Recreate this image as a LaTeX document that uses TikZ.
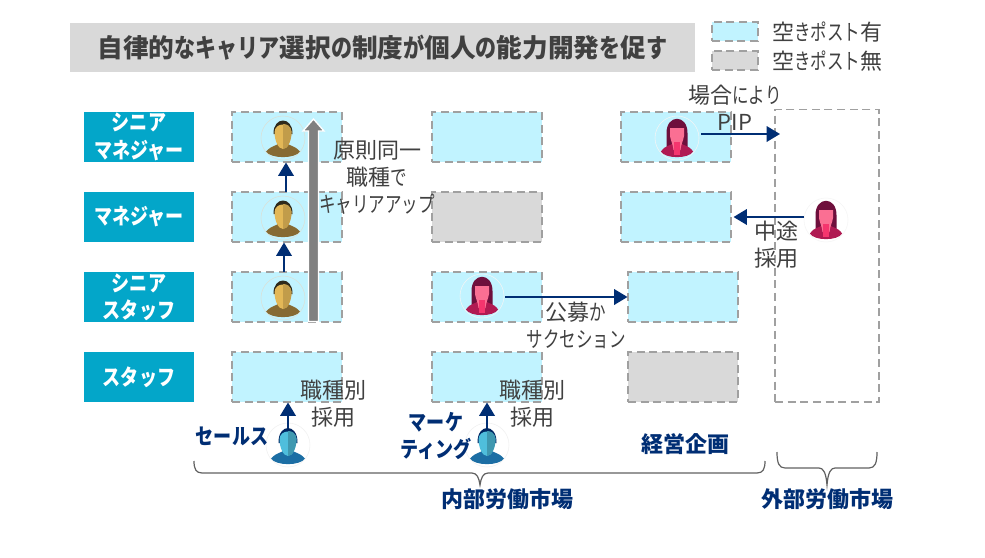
\documentclass[tikz,border=0pt]{standalone}
\usepackage{fontspec}
\setmainfont{Noto Sans CJK JP}
\newfontfamily\knfam[FakeStretch=0.75]{Noto Sans CJK JP}
\newfontfamily\kbfam[FakeStretch=0.82]{Noto Sans CJK JP}
\newcommand\kn[1]{{\knfam #1}}
\newcommand\kb[1]{{\kbfam #1}}
\usetikzlibrary{arrows.meta}
\definecolor{cyanfill}{HTML}{C1F3FF}
\definecolor{grayfill}{HTML}{D9D9D9}
\definecolor{dashc}{HTML}{A0A0A0}
\definecolor{ranktxt}{HTML}{03A6C9}
\definecolor{navy}{HTML}{002E74}
\definecolor{txt}{HTML}{404040}
\tikzset{
  x=0.75pt,y=-0.75pt,
  slot/.style={draw=dashc,line width=1.4pt,dash pattern=on 6pt off 3.5pt,minimum width=82.5pt,minimum height=37.5pt,inner sep=0pt,outer sep=0pt,anchor=north west},
  free/.style={slot,fill=cyanfill},
  full/.style={slot,fill=grayfill},
  rank/.style={fill=ranktxt,text=white,font=\fontsize{16.5pt}{20.5pt}\selectfont\bfseries,minimum width=82.5pt,minimum height=37.5pt,inner sep=0pt,outer sep=0pt,align=center,anchor=north west},
  note/.style={text=txt,font=\fontsize{16.5pt}{20.25pt}\selectfont,align=center,inner sep=0pt},
  navyb/.style={text=navy,font=\fontsize{16.5pt}{20.25pt}\selectfont\bfseries,align=center,inner sep=0pt},
  conn/.style={draw=navy,line width=1.8pt,-{Triangle[length=10pt,width=11.5pt]}},
  man/.pic={
    \draw[draw=yellow!30!green!20!gray!30,line width=.4pt] (0,-20) circle (22);
    \fill[manshoulder] (-17,-6.5) .. controls (-11,-13) and (-6,-12) .. (-4,-15) -- (4,-15) .. controls (6,-12) and (11,-13) .. (17,-6.5) .. controls (12,1) and (-12,1) .. (-17,-6.5) -- cycle;
    \fill[manhair] (-9.5,-24) .. controls (-10,-42) and (10,-42) .. (9.5,-24) -- (7,-24) -- (-7,-24) -- cycle;
    \fill[manface] (-8.5,-26) .. controls (-8,-36) and (8,-36) .. (8.5,-26) .. controls (8.5,-18) and (5,-9) .. (0,-9) .. controls (-5,-9) and (-8.5,-18) .. (-8.5,-26) -- cycle;
    \fill[manface!85!black] (0,-34) .. controls (4,-34) and (8,-32) .. (8.5,-26) .. controls (8.5,-18) and (5,-9) .. (0,-9) -- cycle;
  },
  sales/.pic={
    \draw[draw=black!6,line width=.4pt] (0,-20) circle (22);
    \fill[salesshoulder] (-17,-6.5) .. controls (-11,-13) and (-6,-12) .. (-4,-15) -- (4,-15) .. controls (6,-12) and (11,-13) .. (17,-6.5) .. controls (12,1) and (-12,1) .. (-17,-6.5) -- cycle;
    \fill[navy!85!black] (-9.5,-22) .. controls (-10,-42) and (10,-42) .. (9.5,-22) -- (7,-22) -- (-7,-22) -- cycle;
    \fill[salesface] (-8.5,-26) .. controls (-8,-36) and (8,-36) .. (8.5,-26) .. controls (8.5,-18) and (5,-9) .. (0,-9) .. controls (-5,-9) and (-8.5,-18) .. (-8.5,-26) -- cycle;
    \fill[salesface!80!black] (0,-34) .. controls (4,-34) and (8,-32) .. (8.5,-26) .. controls (8.5,-18) and (5,-9) .. (0,-9) -- cycle;
  },
  woman/.pic={
    \draw[draw=black!4,line width=.4pt] (0,-20) circle (22);
    \fill[womanhair] (-10.5,-25) .. controls (-10.5,-44) and (10.5,-44) .. (10.5,-25) -- (10.5,-10) -- (-10.5,-10) -- cycle;
    \fill[womanshoulder] (-16,-6.5) .. controls (-12,-13) and (-6,-12) .. (-4,-15) -- (4,-15) .. controls (6,-12) and (12,-13) .. (16,-6.5) .. controls (12,1) and (-12,1) .. (-16,-6.5) -- cycle;
    \fill[womanface] (-7,-30) -- (7,-30) -- (7,-22) .. controls (6,-16) and (4,-14) .. (3.5,-8) -- (-3.5,-8) .. controls (-4,-14) and (-6,-16) .. (-7,-22) -- cycle;
    \fill[womanneck] (-3,-16) -- (3,-16) -- (3,-3) -- (-3,-3) -- cycle;
  },
}
\definecolor{manshoulder}{HTML}{866A32}
\definecolor{manhair}{HTML}{2E2A1C}
\definecolor{manface}{HTML}{E3B857}
\definecolor{salesshoulder}{HTML}{1C6EA4}
\definecolor{salesface}{HTML}{4FBEDC}
\definecolor{womanhair}{HTML}{6E0F3C}
\definecolor{womanshoulder}{HTML}{B01A52}
\definecolor{womanface}{HTML}{FA6F93}
\definecolor{womanneck}{HTML}{F5356E}
\begin{document}
\begin{tikzpicture}
\useasboundingbox (0,0) rectangle (985,557);
\fill[white] (0,0) rectangle (985,557);
% title
\node[fill=grayfill,minimum width=468.75pt,minimum height=36.75pt,inner sep=0pt,outer sep=0pt,anchor=north west,text=txt,font=\fontsize{19.25pt}{22pt}\selectfont\bfseries] (title) at (70,23) {自律的\kb{なキャリア}選択\kb{の}制度\kb{が}個人\kb{の}能力開発\kb{を}促\kb{す}};
% legend
\node[free,minimum width=34.5pt,minimum height=14.25pt] (legA) at (712,22) {};
\node[full,minimum width=34.5pt,minimum height=14.25pt] (legB) at (712,51) {};
\node[note,anchor=west] (legAt) at (772,32) {空\kn{きポスト}有};
\node[note,anchor=west] (legBt) at (772,61) {空\kn{きポスト}無};
% ranks
\node[rank] (r1) at (84,112) {\kb{シニア}\\\kb{マネジャー}};
\node[rank] (r2) at (84,192) {\kb{マネジャー}};
\node[rank] (r3) at (84,272) {\kb{シニア}\\\kb{スタッフ}};
\node[rank] (r4) at (84,352) {\kb{スタッフ}};
% slots
\node[free] (a1) at (232,112) {};
\node[free] (a2) at (232,192) {};
\node[free] (a3) at (232,272) {};
\node[free] (a4) at (232,352) {};
\node[free] (b1) at (432,112) {};
\node[full] (b2) at (432,192) {};
\node[free] (b3) at (432,272) {};
\node[free] (b4) at (432,352) {};
\node[free] (c1) at (621,112) {};
\node[free] (c2) at (621,192) {};
\node[free] (c3) at (628,272) {};
\node[full] (c4) at (628,352) {};
\node[slot,minimum width=78pt,minimum height=219.5pt] (ext) at (775,109.5) {};
% people
\pic at (283,158) {man};
\pic at (283,238) {man};
\pic at (283,318) {man};
\pic at (288,465) {sales};
\pic at (487,465) {sales};
\pic at (677,158) {woman};
\pic at (482,316) {woman};
\pic at (826,240) {woman};
% coordinates
\coordinate (s0) at (288,428);
\coordinate (m0) at (487,428);
\coordinate (f0) at (505,297);
\coordinate (pip0) at (701,134);
\coordinate (pip1) at (780,134);
\coordinate (ext0) at (804,217);
\coordinate (u1a) at (286,192);
\coordinate (u1b) at (286,162.5);
\coordinate (u2a) at (284,272);
\coordinate (u2b) at (284,242.5);
\coordinate (f1) at (627.5,297);
\coordinate (ext1) at (733.5,217);
\coordinate (s1) at (288,402.5);
\coordinate (m1) at (487,402.5);
% grey arrow
\draw[draw=white,line width=1pt,fill=gray] (308.5,321.5) -- (308.5,131) -- (303,131) -- (313.5,119) -- (324,131) -- (318.5,131) -- (318.5,321.5) -- cycle;
% arrows
\draw[conn] (u1a) -- (u1b);
\draw[conn] (u2a) -- (u2b);
\draw[conn] (s0) -- (s1);
\draw[conn] (m0) -- (m1);
\draw[conn] (f0) -- (f1);
\draw[conn] (pip0) -- (pip1);
\draw[conn] (ext0) -- (ext1);
% notes
\node[note] (n1) at (377,177) {原則同一\\職種\kn{で}\\\kn{キャリアアップ}};
\node[note] (n2) at (333,404) {職種別\\採用};
\node[note] (n3) at (532,404) {職種別\\採用};
\node[note] (n4) at (735,108) {場合\kn{により}\\PIP};
\node[note] (n5) at (776,245) {中途\\採用};
\node[note] (n6) at (576,325) {公募\kn{か}\\\kn{サクセション}};
% col labels
\node[navyb] (l1) at (232,436) {\kb{セールス}};
\node[navyb] (l2) at (436,436) {\kb{マーケ}\\\kb{ティング}};
\node[navyb] (l3) at (685,444) {経営企画};
\node[navyb] (l4) at (507,499) {内部労働市場};
\node[navyb] (l5) at (827,499) {外部労働市場};
% braces
\draw[draw=black!62,line width=.9pt] (194,461) .. controls (194,469) and (196,473) .. (202,473) -- (472,473) .. controls (477,473) and (479,478) .. (480,485) .. controls (481,478) and (483,473) .. (488,473) -- (757,473) .. controls (763,473) and (765,469) .. (765,461);
\draw[draw=black!62,line width=.9pt] (777,452) .. controls (777,463) and (779,468) .. (785,468) -- (819,468) .. controls (823,468) and (826,472) .. (827,485) .. controls (828,472) and (831,468) .. (835,468) -- (869,468) .. controls (875,468) and (877,463) .. (877,452);
\end{tikzpicture}
\end{document}
